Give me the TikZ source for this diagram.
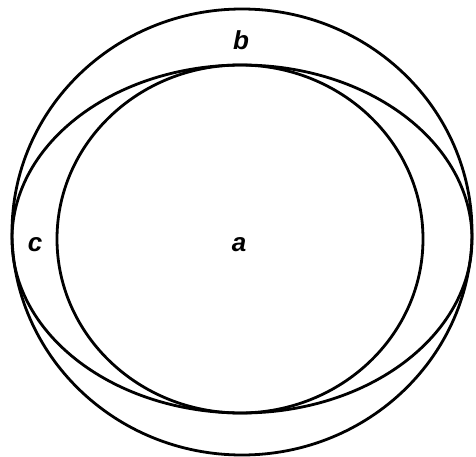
\documentclass[tikz,border=0pt]{standalone}
\usepackage{fontspec}
\setsansfont{Liberation Sans}

\begin{document}
\begin{tikzpicture}[
		x=1pt, y=-1pt,
		set/.style={line width=2.8pt},
		label/.style={font=\sffamily\bfseries\itshape\fontsize{26}{26}\selectfont, inner sep=0pt}
		]
		
		% Fix the page size
		\useasboundingbox (0,0) rectangle (476,457);
		
		% Outer set b
		\draw[set] (242,232) ellipse [x radius=230, y radius=223];
		
		% Wide set c, touching b on the left and right
		\draw[set] (242,239) ellipse [x radius=230, y radius=174];
		
		% Inner set a
		\draw[set] (240,239) ellipse [x radius=183, y radius=174];
		
		% Labels
		\node[label] (b) at (241,40) {b};
		\node[label] (c) at (35,245) {c};
		\node[label] (a) at (239,245) {a};
		
	\end{tikzpicture}
\end{document}
